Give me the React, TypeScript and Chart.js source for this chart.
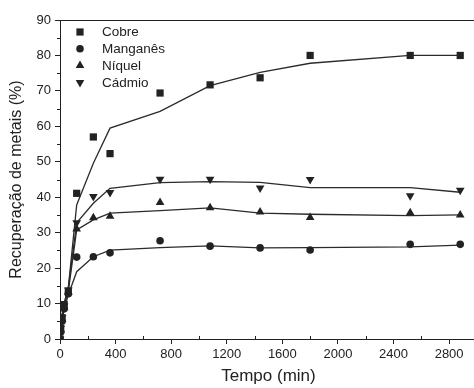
import React, { useEffect, useRef } from 'react';
import { Chart, registerables } from 'chart.js';

Chart.register(...registerables);

// Tempo (min)
const times = [0, 5, 15, 30, 60, 120, 240, 360, 720, 1080, 1440, 1800, 2520, 2880];

// Measured recovery (%)
const cobre = [0, 3, 6, 9.7, 13.5, 41.1, 57.0, 52.3, 69.4, 71.7, 73.7, 80.0, 80.0, 80.0];
const manganes = [0, 2, 5, 8.5, 12.8, 23.1, 23.2, 24.3, 27.7, 26.2, 25.7, 25.1, 26.7, 26.7];
const niquel = [0, 2.5, 5.5, 9.0, 13.2, 31.0, 34.2, 34.6, 38.5, 37.0, 35.8, 34.3, 35.6, 35.0];
const cadmio = [0, 3, 6, 9.3, 13.8, 32.8, 40.2, 41.3, 45.1, 45.1, 42.6, 45.0, 40.4, 42.0];

// Fitted curves (%)
const cobreFit = [0, 3, 7, 10, 14.5, 37.8, 49.6, 59.5, 64.2, 71.5, 75.2, 77.8, 80.0, 80.0];
const manganesFit = [0, 2, 5, 8.5, 12.5, 19.0, 23.2, 25.1, 25.8, 26.3, 25.7, 25.8, 26.0, 26.5];
const niquelFit = [0, 2.5, 6, 9.5, 13.5, 30.8, 33.6, 35.5, 36.2, 37.0, 35.5, 35.2, 34.8, 35.0];
const cadmioFit = [0, 3, 6.5, 10, 14.5, 32.8, 38.3, 42.5, 44.1, 44.4, 44.2, 42.7, 42.7, 41.4];

const seriesLabels = ['Cobre', 'Manganês', 'Níquel', 'Cádmio'];

const xTicks = [0, 400, 800, 1200, 1600, 2000, 2400, 2800];
const xMinorTicks = [200, 600, 1000, 1400, 1800, 2200, 2600];
const yTicks = [0, 10, 20, 30, 40, 50, 60, 70, 80, 90];
const yMinorTicks = [5, 15, 25, 35, 45, 55, 65, 75, 85];

const INK = '#222222';
const FONT = "'Liberation Sans', Arial, Helvetica, sans-serif";

const toXY = (ys: number[]) => times.map((t, i) => ({ x: t, y: ys[i] }));

function drawMarker(ctx: CanvasRenderingContext2D, style: string, x: number, y: number) {
  ctx.beginPath();
  if (style === 'rect') {
    const s = 3.6;
    ctx.rect(x - s, y - s, 2 * s, 2 * s);
  } else if (style === 'circle') {
    ctx.arc(x, y, 3.8, 0, Math.PI * 2);
  } else if (style === 'up') {
    const r = 5;
    ctx.moveTo(x, y - r);
    ctx.lineTo(x + r * 0.866, y + r * 0.5);
    ctx.lineTo(x - r * 0.866, y + r * 0.5);
    ctx.closePath();
  } else {
    const r = 5;
    ctx.moveTo(x, y + r);
    ctx.lineTo(x + r * 0.866, y - r * 0.5);
    ctx.lineTo(x - r * 0.866, y - r * 0.5);
    ctx.closePath();
  }
  ctx.fill();
}

const decorPlugin = {
  id: 'decor',
  afterDraw(chart: any) {
    const { ctx, chartArea, scales } = chart;
    const xs = scales.x;
    const ys = scales.y;
    ctx.save();
    ctx.strokeStyle = INK;
    ctx.lineWidth = 1;
    // top frame
    ctx.beginPath();
    ctx.moveTo(chartArea.left, chartArea.top + 0.5);
    ctx.lineTo(chartArea.right, chartArea.top + 0.5);
    ctx.stroke();
    // minor ticks
    ctx.beginPath();
    xMinorTicks.forEach((v) => {
      const px = Math.round(xs.getPixelForValue(v)) + 0.5;
      ctx.moveTo(px, chartArea.bottom);
      ctx.lineTo(px, chartArea.bottom - 3);
    });
    yMinorTicks.forEach((v) => {
      const py = Math.round(ys.getPixelForValue(v)) + 0.5;
      ctx.moveTo(chartArea.left, py);
      ctx.lineTo(chartArea.left - 3, py);
    });
    ctx.stroke();
    // legend
    const styles = ['rect', 'circle', 'up', 'down'];
    ctx.fillStyle = INK;
    ctx.font = `13.5px ${FONT}`;
    ctx.textBaseline = 'middle';
    ctx.textAlign = 'left';
    seriesLabels.forEach((lab, i) => {
      const y = 32 + i * 16.8;
      drawMarker(ctx, styles[i], 80, y);
      ctx.fillText(lab, 102, y + 0.5);
    });
    ctx.restore();
  },
};

export default function App() {
  const ref = useRef<HTMLCanvasElement | null>(null);

  useEffect(() => {
    if (!ref.current) return;
    const pointDs = (label: string, data: number[], style: string, radius: number, rotation = 0) => ({
      label,
      data: toXY(data),
      showLine: false,
      pointStyle: style,
      pointRotation: rotation,
      pointRadius: radius,
      pointHoverRadius: radius,
      pointBackgroundColor: INK,
      pointBorderColor: INK,
      pointBorderWidth: 0,
      borderColor: INK,
      backgroundColor: INK,
    });
    const lineDs = (data: number[]) => ({
      label: '',
      data: toXY(data),
      showLine: true,
      pointRadius: 0,
      borderColor: '#2b2b2b',
      borderWidth: 1.3,
      tension: 0,
      fill: false,
    });
    const chart = new Chart(ref.current, {
      type: 'scatter',
      data: {
        datasets: [
          pointDs(seriesLabels[0], cobre, 'rect', 5.1),
          pointDs(seriesLabels[1], manganes, 'circle', 3.8),
          pointDs(seriesLabels[2], niquel, 'triangle', 5),
          pointDs(seriesLabels[3], cadmio, 'triangle', 5, 180),
          lineDs(cobreFit),
          lineDs(manganesFit),
          lineDs(niquelFit),
          lineDs(cadmioFit),
        ] as any,
      },
      options: {
        animation: false,
        responsive: false,
        devicePixelRatio: 1,
        layout: { padding: { top: 20, right: 5, bottom: 0, left: 0 } },
        plugins: {
          legend: { display: false },
          tooltip: { enabled: false },
        },
        scales: {
          x: {
            type: 'linear',
            min: 0,
            max: 3000,
            afterBuildTicks: (s: any) => {
              s.ticks = xTicks.map((v) => ({ value: v }));
            },
            afterFit: (s: any) => {
              s.height = 49;
            },
            grid: { display: true, drawOnChartArea: false, drawTicks: true, tickLength: 5, color: INK },
            border: { display: true, color: INK, width: 1 },
            ticks: {
              color: INK,
              font: { family: FONT, size: 13 },
              padding: 3,
              maxRotation: 0,
              autoSkip: false,
              callback: (v: any) => String(v),
            },
            title: {
              display: true,
              text: 'Tempo (min)',
              color: INK,
              font: { family: FONT, size: 17 },
              padding: { top: 0, bottom: 1 },
            },
          },
          y: {
            type: 'linear',
            min: 0,
            max: 90,
            afterBuildTicks: (s: any) => {
              s.ticks = yTicks.map((v) => ({ value: v }));
            },
            afterFit: (s: any) => {
              s.width = 60;
            },
            grid: { display: true, drawOnChartArea: false, drawTicks: true, tickLength: 5, color: INK },
            border: { display: true, color: INK, width: 1 },
            ticks: {
              color: INK,
              font: { family: FONT, size: 13 },
              padding: 4,
              autoSkip: false,
              callback: (v: any) => String(v),
            },
            title: {
              display: true,
              text: 'Recuperação de metais (%)',
              color: INK,
              font: { family: FONT, size: 16 },
              padding: { top: 7, bottom: 0 },
            },
          },
        },
      },
      plugins: [decorPlugin],
    });
    return () => chart.destroy();
  }, []);

  return (
    <div style={{ position: 'absolute', left: 0, top: 0, width: 474, height: 388, overflow: 'hidden', background: '#fff' }}>
      <canvas ref={ref} width={482} height={388} style={{ display: 'block', width: 482, height: 388 }} />
    </div>
  );
}
